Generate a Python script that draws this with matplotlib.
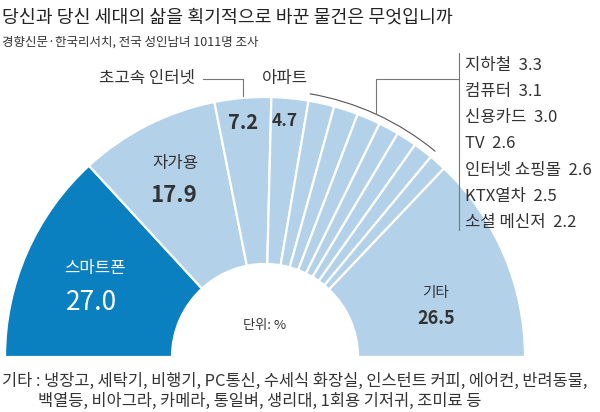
import numpy as np
import matplotlib.pyplot as plt
from matplotlib.patches import Arc

plt.rcParams['font.family'] = ['Noto Sans CJK KR', 'DejaVu Sans']

title = '당신과 당신 세대의 삶을 획기적으로 바꾼 물건은 무엇입니까'
subtitle = '경향신문·한국리서치, 전국 성인남녀 1011명 조사'
labels = ['스마트폰', '자가용', '초고속 인터넷', '아파트', '지하철', '컴퓨터', '신용카드',
          'TV', '인터넷 쇼핑몰', 'KTX열차', '소셜 메신저', '기타']
values = [27.0, 17.9, 7.2, 4.7, 3.3, 3.1, 3.0, 2.6, 2.6, 2.5, 2.2, 26.5]
note1 = '기타 : 냉장고, 세탁기, 비행기, PC통신, 수세식 화장실, 인스턴트 커피, 에어컨, 반려동물,'
note2 = '백열등, 비아그라, 카메라, 통일벼, 생리대, 1회용 기저귀, 조미료 등'

dark = '#0a80c0'
light = '#b3d1e8'
txt = '#333333'
line_c = '#777777'

fig = plt.figure(figsize=(6, 4.12), dpi=100)
ax = fig.add_axes([0, 0, 1, 1])

cx, cy, R, W = 265, 55, 260, 167
total = sum(values)
colors = [dark] + [light] * (len(values) - 1) + ['none']
# extra invisible wedge = total, so the real ones fill the upper half
wedges, _ = ax.pie(values + [total], radius=R, center=(cx, cy), startangle=180,
                   counterclock=False, colors=colors,
                   wedgeprops=dict(width=W, edgecolor='white', linewidth=1.6))
wedges[-1].set_edgecolor('none')
ax.set_xlim(0, 600)
ax.set_ylim(0, 412)
ax.set_aspect('equal')
ax.axis('off')

# wedge boundary angles in degrees
cum = np.concatenate([[0], np.cumsum(values)])
ang = 180 - cum / total * 180

# text inside the big wedges
ax.text(95, 144, labels[0], color='white', fontsize=12, ha='center', va='center')
ax.text(92, 110, '%.1f' % values[0], color='white', fontsize=19, ha='center', va='center')
ax.text(175, 249, labels[1], color=txt, fontsize=12, ha='center', va='center')
ax.text(174, 217, '%.1f' % values[1], color=txt, fontsize=16, ha='center', va='center',
        weight='bold')
ax.text(243, 290, '%.1f' % values[2], color=txt, fontsize=14.5, ha='center', va='center',
        weight='bold')
ax.text(285, 291, '%.1f' % values[3], color=txt, fontsize=12.5, ha='center', va='center',
        weight='bold')
ax.text(435, 119, labels[-1], color=txt, fontsize=10.5, ha='center', va='center')
ax.text(436, 93, '%.1f' % values[-1], color=txt, fontsize=13, ha='center', va='center',
        weight='bold')
ax.text(265, 86, '단위: %', color=txt, fontsize=9.5, ha='center', va='center')

# labels outside
ax.text(147, 334, labels[2], color=txt, fontsize=12, ha='center', va='center')
ax.text(285, 334, labels[3], color=txt, fontsize=12, ha='center', va='center')
mid = np.radians((ang[2] + ang[3]) / 2)
mx = cx + R * np.cos(mid)
ax.plot([203, mx, mx], [333, 333, cy + R * np.sin(mid) + 2], color=line_c, lw=0.8)

# bracket round the small wedges
rb = 267
ax.add_patch(Arc((cx, cy), 2 * rb, 2 * rb, theta1=ang[10], theta2=ang[4],
                 color='#555555', lw=0.8))
bm = np.radians((ang[4] + ang[10]) / 2)
bx = cx + rb * np.cos(bm)
ax.plot([bx, bx, 459], [cy + rb * np.sin(bm), 333, 333], color=line_c, lw=0.8)
ax.plot([459, 459], [359, 182], color=line_c, lw=0.8)
for i in range(4, 11):
    ax.text(465, 347 - (i - 4) * 26.3, '%s  %.1f' % (labels[i], values[i]), color=txt,
            fontsize=12, ha='left', va='center')

# title, source and note
fig.text(0.003, 1 - 18 / 412, title, color='#222222', fontsize=13.2, weight='medium',
         ha='left', va='center')
fig.text(0.003, 1 - 42 / 412, subtitle, color=txt, fontsize=9, ha='left', va='center')
fig.text(0.003, 1 - 381 / 412, note1, color=txt, fontsize=11.8, ha='left', va='center')
fig.text(38 / 600, 1 - 401 / 412, note2, color=txt, fontsize=11.8, ha='left', va='center')

fig.savefig('out.png', dpi=100)
